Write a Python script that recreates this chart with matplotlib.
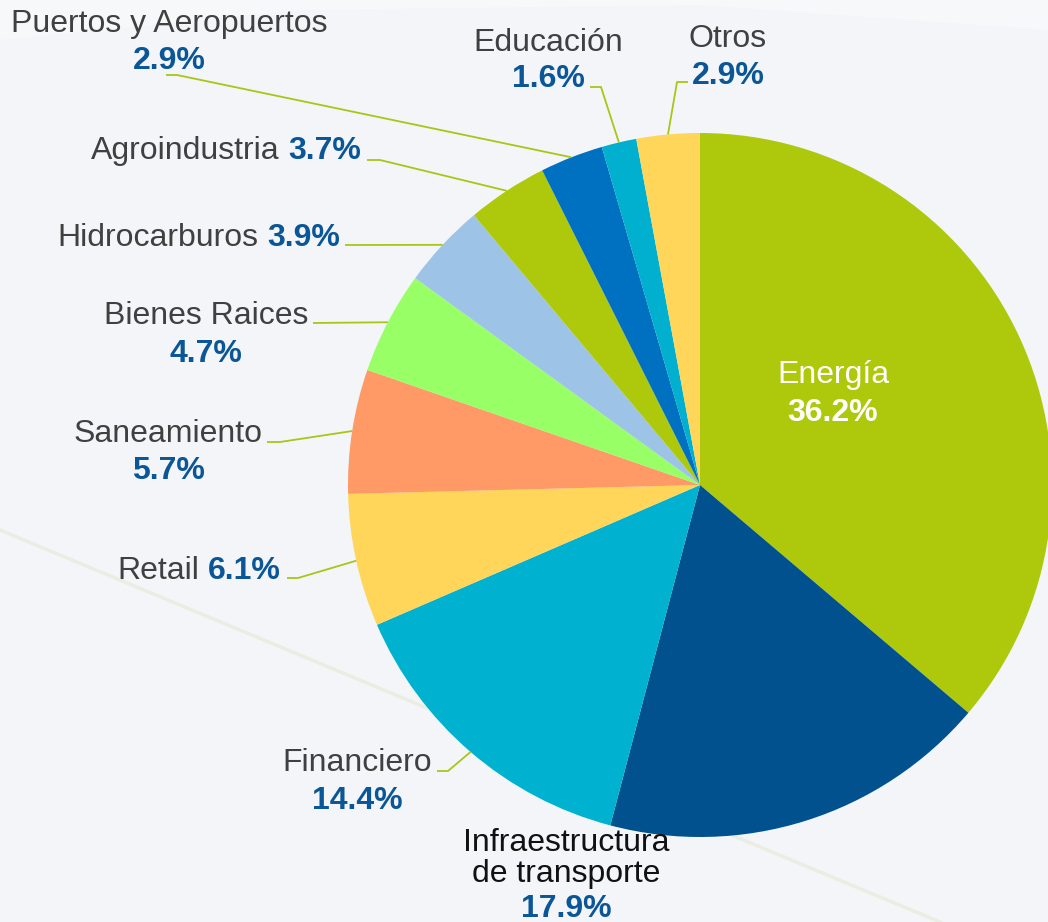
import matplotlib
matplotlib.use("Agg")
import matplotlib.pyplot as plt
import numpy as np

# ---- data ----
sectors = ["Energía", "Infraestructura\nde transporte", "Financiero", "Retail",
           "Saneamiento", "Bienes Raices", "Hidrocarburos", "Agroindustria",
           "Puertos y Aeropuertos", "Educación", "Otros"]
shares = [36.2, 17.9, 14.4, 6.1, 5.7, 4.7, 3.9, 3.7, 2.9, 1.6, 2.9]
pct_labels = ["36.2%", "17.9%", "14.4%", "6.1%", "5.7%", "4.7%", "3.9%",
              "3.7%", "2.9%", "1.6%", "2.9%"]
colors = ["#AEC90C", "#00518E", "#00B2CF", "#FFD55A", "#FF9966", "#99FF66",
          "#9DC3E6", "#AEC90C", "#0070C0", "#00B0CE", "#FFD55A"]

W, H = 1048, 922
fig = plt.figure(figsize=(W / 100, H / 100), dpi=100)
fig.patch.set_facecolor("#F3F5F8")
ax = fig.add_axes([0, 0, 1, 1])
ax.set_facecolor("#F3F5F8")

def P(x, y):
    """pixel (top-left origin) -> data coords"""
    return x, H - y

# faint background decoration
ax.plot([0, 1048], [H - 530, H - 967], color="#EAEDE2", lw=2.5, zorder=0)
ax.fill_between([0, 300, 700, 1048], [H - 40, H - 10, H - 5, H - 30], [H, H, H, H],
                color="white", alpha=0.3, lw=0, zorder=0)

cx, cy = P(700, 485)
R = 352
wedges, _ = ax.pie(shares, colors=colors, startangle=90, counterclock=False,
                   center=(cx, cy), radius=R,
                   wedgeprops=dict(linewidth=0, antialiased=True))
ax.set_xlim(0, W)
ax.set_ylim(0, H)
ax.set_aspect("equal")
ax.axis("off")

GRAY = "#404040"
BLUE = "#0A5696"
LINE = "#A8C616"
FS = 23
FONT = "Liberation Sans"

def wedge_point(i, r=1.0):
    w = wedges[i]
    th = np.deg2rad((w.theta1 + w.theta2) / 2)
    return cx + r * R * np.cos(th), cy + r * R * np.sin(th)

def leader(i, start, knee=None):
    ex, ey = wedge_point(i)
    xs = [start[0]]
    ys = [H - start[1]]
    if knee is not None:
        xs.append(knee[0]); ys.append(H - knee[1])
    xs.append(ex); ys.append(ey)
    ax.plot(xs, ys, color=LINE, lw=1.3, zorder=3, solid_capstyle="butt")

def two_line(i, x, y1, y2, name_color=GRAY, pct_color=BLUE):
    ax.text(*P(x, y1), sectors[i], ha="center", va="baseline", fontsize=FS,
            color=name_color, family=FONT, zorder=4)
    ax.text(*P(x, y2), pct_labels[i], ha="center", va="baseline", fontsize=FS,
            color=pct_color, family=FONT, fontweight="bold", zorder=4)

renderer = fig.canvas.get_renderer()

def one_line(i, xr, y):
    t = ax.text(*P(xr, y), pct_labels[i], ha="right", va="baseline", fontsize=FS,
                color=BLUE, family=FONT, fontweight="bold", zorder=4)
    bb = t.get_window_extent(renderer=renderer)
    ax.text(bb.x0 - 9, H - y, sectors[i], ha="right", va="baseline", fontsize=FS,
            color=GRAY, family=FONT, zorder=4)

# Energía (inside)
two_line(0, 833, 383, 421, name_color="white", pct_color="white")
# Infraestructura (below)
ax.text(*P(566, 882), sectors[1], ha="center", va="baseline", fontsize=FS,
        color="#111111", family=FONT, linespacing=1.05, zorder=4)
ax.text(*P(566, 917), pct_labels[1], ha="center", va="baseline", fontsize=FS,
        color=BLUE, family=FONT, fontweight="bold", zorder=4)
# Financiero
two_line(2, 357, 771, 809)
leader(2, (437, 771), (448, 771))
# Retail
one_line(3, 281, 579)
leader(3, (287, 578), (298, 578))
# Saneamiento
two_line(4, 168, 442, 479)
leader(4, (267, 442), (280, 442))
# Bienes Raices
two_line(5, 206, 324, 362)
leader(5, (313, 323))
# Hidrocarburos
one_line(6, 340, 246)
leader(6, (345, 245))
# Agroindustria
one_line(7, 361, 159)
leader(7, (367, 160), (380, 160))
# Puertos y Aeropuertos
two_line(8, 169, 32, 69)
leader(8, (166, 75), (177, 75))
# Educación
two_line(9, 548, 51, 87)
leader(9, (590, 87), (601, 87))
# Otros
two_line(10, 728, 47, 84)
leader(10, (688, 82), (677, 82))

fig.savefig("out.png", dpi=100, facecolor=fig.get_facecolor())
